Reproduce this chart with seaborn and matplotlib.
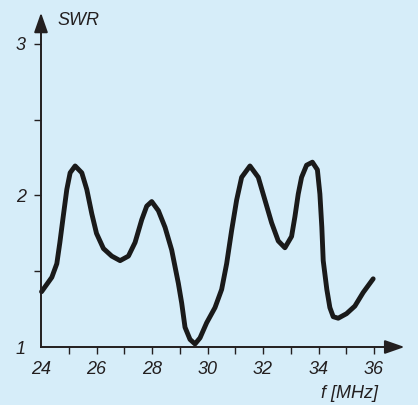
import numpy as np
import pandas as pd
import seaborn as sns
from matplotlib import pyplot as plt

# frequency [MHz] and SWR
freq = [24.02, 24.39, 24.57, 24.68, 24.8, 24.93, 25.05, 25.23, 25.47, 25.65, 25.83, 26.0,
        26.25, 26.55, 26.85, 27.15, 27.39, 27.63, 27.81, 27.99, 28.23, 28.47, 28.71, 28.83,
        28.95, 29.07, 29.19, 29.37, 29.55, 29.73, 29.97, 30.27, 30.51, 30.69, 30.87, 31.05,
        31.23, 31.53, 31.83, 32.07, 32.31, 32.55, 32.79, 33.03, 33.15, 33.27, 33.39, 33.57,
        33.78, 33.96, 34.05, 34.12, 34.17, 34.3, 34.41, 34.53, 34.71, 35.01, 35.31, 35.61,
        35.97]
swr = [1.365, 1.46, 1.55, 1.69, 1.86, 2.04, 2.15, 2.195, 2.15, 2.04, 1.88, 1.75,
       1.65, 1.60, 1.57, 1.60, 1.69, 1.84, 1.93, 1.96, 1.90, 1.79, 1.64, 1.53,
       1.42, 1.29, 1.13, 1.05, 1.02, 1.06, 1.16, 1.26, 1.38, 1.55, 1.77, 1.97,
       2.12, 2.195, 2.12, 1.97, 1.82, 1.70, 1.655, 1.73, 1.86, 2.01, 2.12, 2.20,
       2.22, 2.17, 2.01, 1.79, 1.57, 1.38, 1.26, 1.20, 1.19, 1.22, 1.27, 1.36,
       1.45]

x_ticks = [24, 25, 26, 27, 28, 29, 30, 31, 32, 33, 34, 35, 36]
x_labels = ['24', '', '26', '', '28', '', '30', '', '32', '', '34', '', '36']
y_ticks = [1, 1.5, 2, 2.5, 3]
y_labels = ['1', '', '2', '', '3']

bg = '#d6edf9'
ink = '#231f20'

sns.set_theme(style='ticks')
plt.rcParams['font.family'] = ['Liberation Sans', 'DejaVu Sans']

df = pd.DataFrame({'f': freq, 'swr': swr})

fig = plt.figure(figsize=(4.18, 4.05), dpi=100, facecolor=bg)
ax = fig.add_axes([0, 0, 1, 1])
ax.set_facecolor(bg)

sns.lineplot(data=df, x='f', y='swr', sort=False, color='#1a1a1a', lw=3.5, ax=ax,
             solid_joinstyle='round', solid_capstyle='round')

# pixel-aligned data window
ax.set_xlim(24 - 41 / 27.75, 24 + 377 / 27.75)
ax.set_ylim(1 - 58 / 151.5, 1 + 347 / 151.5)

for s in ['top', 'right']:
    ax.spines[s].set_visible(False)
ax.spines['left'].set_position(('data', 24))
ax.spines['bottom'].set_position(('data', 1))
ax.spines['left'].set_bounds(1, 3.15)
ax.spines['bottom'].set_bounds(24, 36.9)
for s in ['left', 'bottom']:
    ax.spines[s].set_color(ink)
    ax.spines[s].set_linewidth(1.4)

ax.set_xticks(x_ticks)
ax.set_xticklabels(x_labels, fontstyle='italic', fontsize=13, color=ink)
ax.set_yticks(y_ticks)
ax.set_yticklabels(y_labels, fontstyle='italic', fontsize=13, color=ink)
ax.tick_params(axis='both', direction='out', length=5, width=1.0, color=ink)
ax.tick_params(axis='x', pad=5)
ax.tick_params(axis='y', pad=6)
# no tick mark at the origin
ax.xaxis.get_major_ticks()[0].tick1line.set_visible(False)
ax.yaxis.get_major_ticks()[0].tick1line.set_visible(False)
ax.set_xlabel('')
ax.set_ylabel('')

# arrow heads
ax.annotate('', xy=(37.2, 1), xytext=(36.7, 1),
            arrowprops=dict(arrowstyle='-|>,head_length=1.0,head_width=0.35', color=ink, lw=1.4))
ax.annotate('', xy=(24, 3.225), xytext=(24, 3.05),
            arrowprops=dict(arrowstyle='-|>,head_length=1.0,head_width=0.35', color=ink, lw=1.4))

ax.text(24.61, 3.158, 'SWR', fontstyle='italic', fontsize=13, color=ink, va='center', ha='left')
ax.text(36.15, 0.69, 'f [MHz]', fontstyle='italic', fontsize=13, color=ink, va='center', ha='right')

fig.savefig('out.png', dpi=100, facecolor=bg)
